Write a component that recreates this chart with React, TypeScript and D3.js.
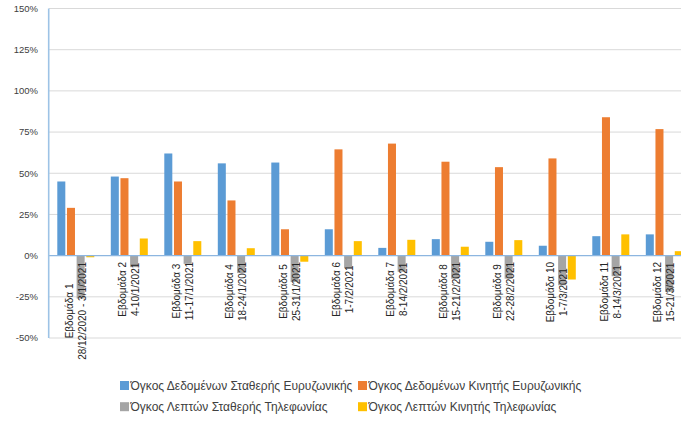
import React from "react";
import * as d3 from "d3";

const weeks = [
  ["Εβδομάδα 1", "28/12/2020 - 3/1/2021"],
  ["Εβδομάδα 2", "4-10/1/2021"],
  ["Εβδομάδα 3", "11-17/1/2021"],
  ["Εβδομάδα 4", "18-24/1/2021"],
  ["Εβδομάδα 5", "25-31/1/2021"],
  ["Εβδομάδα 6", "1-7/2/2021"],
  ["Εβδομάδα 7", "8-14/2/2021"],
  ["Εβδομάδα 8", "15-21/2/2021"],
  ["Εβδομάδα 9", "22-28/2/2021"],
  ["Εβδομάδα 10", "1-7/3/2021"],
  ["Εβδομάδα 11", "8-14/3/2021"],
  ["Εβδομάδα 12", "15-21/3/2021"],
];

const seriesNames = [
  "Όγκος Δεδομένων Σταθερής Ευρυζωνικής",
  "Όγκος Δεδομένων Κινητής Ευρυζωνικής",
  "Όγκος Λεπτών Σταθερής Τηλεφωνίας",
  "Όγκος Λεπτών Κινητής Τηλεφωνίας",
];
const seriesColors = ["#5b9bd5", "#ed7d31", "#a5a5a5", "#ffc000"];

const fixedData = [45, 48, 62, 56, 56.5, 16, 4.7, 10, 8.4, 6, 11.8, 12.9];
const mobileData = [29, 47, 45, 33.5, 16, 64.5, 68, 57, 53.7, 59, 84, 76.8];
const fixedVoice = [-26, -7, -5, -10.6, -16, -7.6, -9.8, -14, -14, -18, -12.5, -22];
const mobileVoice = [-1, 10.4, 8.8, 4.5, -3.7, 8.8, 9.6, 5.4, 9.4, -14.5, 12.9, 2.7];

const seriesValues = [fixedData, mobileData, fixedVoice, mobileVoice];
const yTicks = [-50, -25, 0, 25, 50, 75, 100, 125, 150];

const FONT = "'Liberation Sans', Arial, sans-serif";

function measure(text: string, size: number) {
  const c = document.createElement("canvas").getContext("2d");
  if (!c) return text.length * size * 0.5;
  c.font = `${size}px 'Liberation Sans'`;
  return c.measureText(text).width;
}

export default function App() {
  const W = 681;
  const H = 421;
  const left = 49;
  const bandW = 53.5;
  const x = d3
    .scaleBand<number>()
    .domain(d3.range(weeks.length))
    .range([left, left + bandW * weeks.length])
    .padding(0);
  const xs = d3
    .scaleBand<number>()
    .domain(d3.range(4))
    .range([8.3, 45.3])
    .paddingInner(0.17)
    .paddingOuter(0);
  const y = d3.scaleLinear().domain([-50, 150]).range([338, 8.5]);
  const gridRight = left + bandW * weeks.length;
  const labelSize = 10;

  return (
    <svg
      width={W}
      height={H}
      style={{ position: "absolute", left: 0, top: 0, display: "block", background: "#fff" }}
      fontFamily={FONT}
    >
      {yTicks.map((t) =>
        t === 0 ? null : (
          <line key={t} x1={left} x2={gridRight} y1={y(t)} y2={y(t)} stroke="#d9d9d9" strokeWidth={1} />
        )
      )}
      {yTicks.map((t) => (
        <text key={"l" + t} x={38} y={y(t)} dy="0.35em" textAnchor="end" fontSize={9.5} fill="#404040">
          {t + "%"}
        </text>
      ))}
      {seriesValues.map((vals, si) =>
        vals.map((v, i) => {
          const x0 = (x(i) as number) + (xs(si) as number);
          const y0 = y(Math.max(0, v));
          const h = Math.abs(y(v) - y(0));
          return <rect key={si + "-" + i} x={x0} y={y0} width={xs.bandwidth()} height={h} fill={seriesColors[si]} />;
        })
      )}
      <line x1={left} x2={gridRight} y1={y(0)} y2={y(0)} stroke="#8db6e0" strokeWidth={1.2} />
      <line x1={left - 0.3} x2={left - 0.3} y1={y(150)} y2={y(-50)} stroke="#9dc3e6" strokeWidth={1.6} />
      {weeks.map((lines, i) => {
        const cx = (x(i) as number) + bandW / 2;
        const L = Math.max(...lines.map((l) => measure(l, labelSize)));
        const cy = 262 + L / 2;
        return (
          <g key={"w" + i}>
            {lines.map((ln, li) => (
              <text
                key={li}
                transform={`translate(${cx + (li === 0 ? -6.6 : 6.6)},${cy}) rotate(-90)`}
                textAnchor="middle"
                dominantBaseline="central"
                fontSize={labelSize}
                fill="#262626"
              >
                {ln}
              </text>
            ))}
          </g>
        );
      })}
      {seriesNames.map((name, si) => {
        const lx = si % 2 === 0 ? 120 : 358;
        const ly = si < 2 ? 385.5 : 406.7;
        return (
          <g key={"lg" + si}>
            <rect x={lx} y={ly - 4.5} width={9} height={9} fill={seriesColors[si]} />
            <text x={lx + 10.5} y={ly} dy="0.35em" fontSize={12} fill="#404040">
              {name}
            </text>
          </g>
        );
      })}
    </svg>
  );
}
